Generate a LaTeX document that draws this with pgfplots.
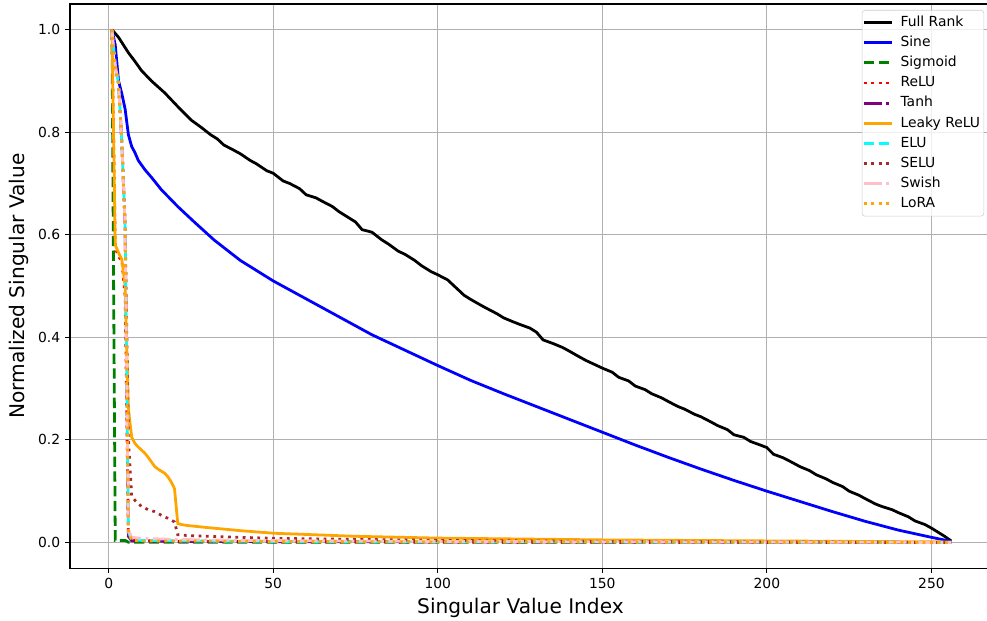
\documentclass[border=0pt]{standalone}
\usepackage{pgfplots}
\pgfplotsset{compat=1.18}
\usepackage{fontspec}
\setmainfont{DejaVu Sans}
\definecolor{mgreen}{RGB}{0,128,0}
\definecolor{mpurple}{RGB}{128,0,128}
\definecolor{morange}{RGB}{255,165,0}
\definecolor{mcyan}{RGB}{0,255,255}
\definecolor{mbrown}{RGB}{165,42,42}
\definecolor{mpink}{RGB}{255,192,203}
\definecolor{mgrid}{RGB}{176,176,176}
\begin{document}
\begin{tikzpicture}
\begin{axis}[name=ax, scale only axis, width=664.6pt, height=406.1pt,
  xmin=-11.75, xmax=268.75, ymin=-0.05, ymax=1.05,
  xtick={0,50,100,150,200,250}, ytick={0,0.2,0.4,0.6,0.8,1.0},
  yticklabel style={/pgf/number format/.cd,fixed,fixed zerofill,precision=1},
  /pgf/number format/assume math mode=true,
  tick label style={font=\fontsize{10}{12}\selectfont},
  label style={font=\fontsize{14.5}{17}\selectfont},
  xlabel={Singular Value Index}, ylabel={Normalized Singular Value},
  xlabel style={xshift=-8pt},
  tick align=outside, major tick length=3.5pt,
  tick style={black, line width=0.8pt},
  xtick pos=bottom, ytick pos=left,
  axis line style={line width=0.8pt},
  grid=major, major grid style={mgrid, line width=0.8pt},
  legend cell align=left,
  legend style={at={(1,1)}, anchor=north east, xshift=-6.5pt, yshift=-4.3pt,
    font=\fontsize{10}{12}\selectfont, draw=black!20, rounded corners=2pt,
    fill=white, fill opacity=0.8, text opacity=1, inner xsep=0.4pt, inner ysep=1.6pt,
    row sep=0pt, nodes={inner sep=2.3pt, text height=7.7pt, text depth=2.2pt},
    /tikz/every odd column/.append style={column sep=3pt}},
  legend image code/.code={\draw[#1] (0pt,0pt) -- (20pt,0pt);},
  every axis plot/.append style={line width=2pt},
]
% Full Rank
\addplot[black] coordinates {(1,1.0) (3,0.985) (4,0.975) (6,0.955) (8,0.938) (10,0.92) (13,0.9) (17,0.877) (21,0.85) (25,0.824) (28,0.81) (31,0.795) (33,0.787) (35,0.775) (38,0.765) (40,0.758) (43,0.745) (45,0.738) (48,0.725) (50,0.72) (53,0.705) (55,0.70) (58,0.69) (60,0.678) (63,0.672) (65,0.665) (68,0.655) (70,0.645) (73,0.633) (75,0.625) (77,0.61) (80,0.605) (83,0.59) (85,0.582) (88,0.568) (90,0.562) (93,0.55) (95,0.54) (98,0.528) (100,0.522) (103,0.512) (105,0.5) (108,0.482) (110,0.474) (113,0.463) (115,0.456) (118,0.446) (120,0.438) (123,0.43) (125,0.425) (128,0.418) (130,0.41) (132,0.395) (135,0.388) (138,0.38) (140,0.373) (143,0.362) (145,0.355) (148,0.346) (150,0.34) (153,0.332) (155,0.322) (158,0.315) (160,0.305) (163,0.298) (165,0.29) (168,0.282) (170,0.275) (173,0.265) (175,0.26) (178,0.25) (180,0.245) (183,0.235) (185,0.228) (188,0.22) (190,0.21) (193,0.205) (195,0.197) (198,0.19) (200,0.185) (202,0.172) (205,0.165) (208,0.155) (210,0.148) (213,0.14) (215,0.132) (218,0.124) (220,0.117) (223,0.109) (225,0.1) (228,0.092) (230,0.085) (233,0.075) (235,0.07) (238,0.064) (240,0.058) (243,0.05) (245,0.042) (248,0.035) (250,0.028) (252,0.02) (254,0.012) (256,0.003)};
\addlegendentry{Full Rank}
% Sine
\addplot[blue] coordinates {(1,1.0) (2,0.97) (3,0.9) (4,0.875) (5,0.845) (6,0.795) (7,0.772) (8,0.76) (9,0.745) (11,0.727) (13,0.712) (16,0.688) (21,0.655) (26,0.625) (32,0.59) (40,0.55) (50,0.51) (60,0.475) (70,0.44) (80,0.405) (90,0.375) (100,0.345) (110,0.316) (120,0.29) (130,0.265) (140,0.24) (150,0.215) (160,0.19) (170,0.166) (180,0.143) (190,0.121) (200,0.1) (210,0.08) (220,0.06) (230,0.041) (240,0.024) (250,0.01) (256,0.002)};
\addlegendentry{Sine}
% Sigmoid
\addplot[mgreen, dash pattern=on 7.4pt off 3.2pt] coordinates {(1,1.0) (2,0.004) (5,0.004) (6,0.0005) (100,0.0002) (256,0)};
\addlegendentry{Sigmoid}
% ReLU
\addplot[red, dash pattern=on 2pt off 3.3pt] coordinates {(1,1.0) (2,0.575) (3,0.557) (4,0.55) (5,0.48) (6,0.015) (7,0.004) (20,0.002) (100,0.001) (256,0)};
\addlegendentry{ReLU}
% Tanh
\addplot[mpurple, dash pattern=on 12.8pt off 3.2pt on 2pt off 3.2pt] coordinates {(1,1.0) (2,0.93) (3,0.895) (4,0.78) (5,0.615) (6,0.012) (7,0.003) (20,0.002) (100,0.001) (256,0)};
\addlegendentry{Tanh}
% Leaky ReLU
\addplot[morange] coordinates {(1,1.0) (2,0.58) (3,0.565) (4,0.552) (5,0.5) (6,0.26) (7,0.205) (8,0.193) (9,0.186) (10,0.18) (11,0.174) (12,0.166) (13,0.157) (14,0.148) (15,0.143) (16,0.139) (17,0.135) (18,0.128) (19,0.118) (20,0.105) (21,0.037) (22,0.035) (24,0.033) (30,0.029) (40,0.023) (50,0.018) (75,0.012) (100,0.0085) (150,0.005) (200,0.003) (256,0.001)};
\addlegendentry{Leaky ReLU}
% ELU
\addplot[mcyan, dash pattern=on 7.4pt off 3.2pt] coordinates {(1,1.0) (2,0.93) (3,0.895) (4,0.78) (5,0.615) (6,0.02) (7,0.005) (10,0.004) (20,0.003) (50,0.002) (100,0.001) (200,0.0004) (256,0)};
\addlegendentry{ELU}
% SELU
\addplot[mbrown, dash pattern=on 2pt off 3.3pt] coordinates {(1,1.0) (2,0.93) (3,0.895) (4,0.78) (5,0.62) (6,0.2) (7,0.09) (8,0.082) (10,0.07) (12,0.064) (14,0.06) (16,0.053) (18,0.047) (20,0.04) (21,0.015) (25,0.013) (50,0.008) (100,0.004) (150,0.002) (200,0.001) (256,0)};
\addlegendentry{SELU}
% Swish
\addplot[mpink, dash pattern=on 12.8pt off 3.2pt on 2pt off 3.2pt] coordinates {(1,1.0) (2,0.93) (3,0.895) (4,0.78) (5,0.615) (6,0.025) (7,0.01) (10,0.008) (20,0.006) (40,0.004) (100,0.002) (256,0)};
\addlegendentry{Swish}
% LoRA
\addplot[morange, dash pattern=on 2pt off 3.3pt] coordinates {(1,1.0) (2,0.93) (3,0.895) (4,0.78) (5,0.615) (6,0.02) (7,0.004) (10,0.003) (20,0.003) (50,0.002) (100,0.001) (200,0.0004) (256,0)};
\addlegendentry{LoRA}
\end{axis}
\pgfresetboundingbox
\useasboundingbox ([xshift=-50.4pt,yshift=-37.4pt]ax.south west) rectangle ([xshift=-4.4pt,yshift=2.9pt]ax.north east);
\end{tikzpicture}
\end{document}
